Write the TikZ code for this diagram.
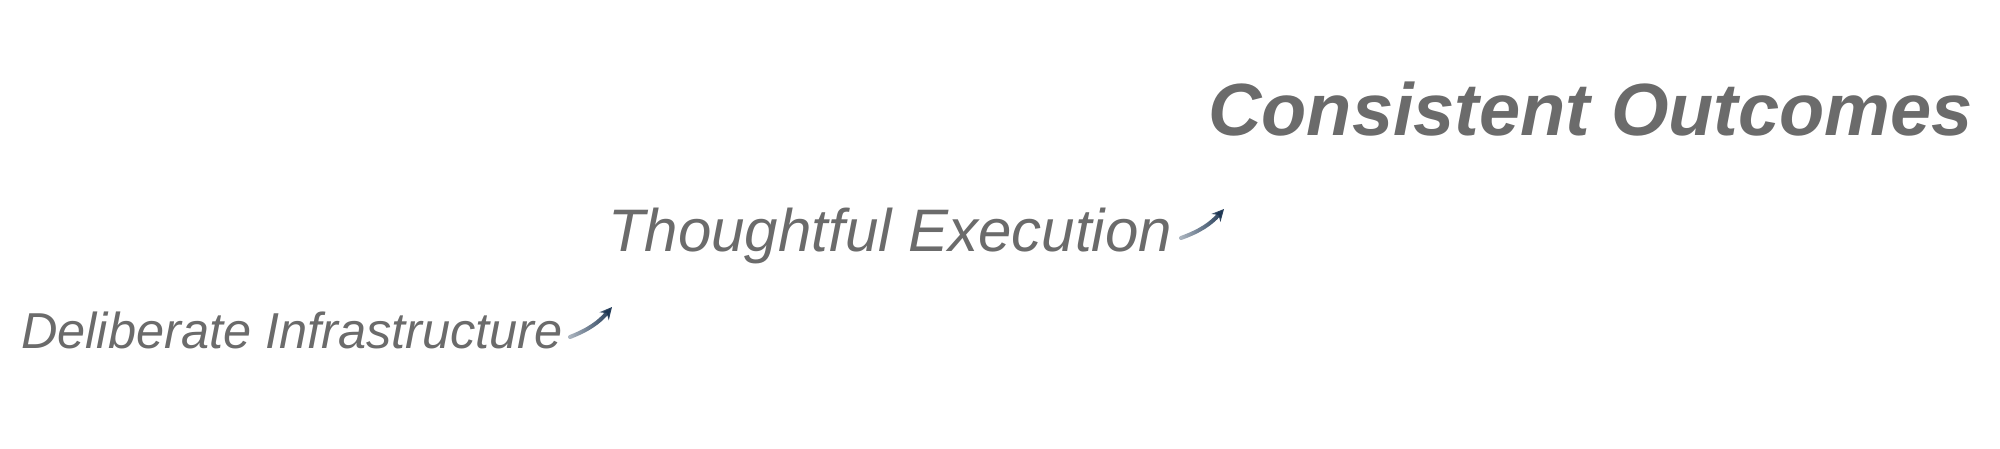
\documentclass[tikz,border=0pt]{standalone}
\usepackage{fontspec}
\setmainfont{Liberation Sans}
\usetikzlibrary{arrows.meta,fadings}
\definecolor{txtgray}{HTML}{6B6B6B}
\definecolor{arrowblue}{HTML}{1C3552}
\tikzfading[name=tailfade, left color=transparent!65, right color=transparent!0]
\tikzset{
  lbl/.style={anchor=base west, inner sep=0pt, text=txtgray, font=\itshape},
  uparrow/.style={draw=arrowblue, line width=4pt, line cap=round,
    -{Stealth[length=12pt,width=12pt]}, bend right=14, path fading=tailfade}
}
\begin{document}
\begin{tikzpicture}[x=1pt,y=-1pt]
\useasboundingbox (0,0) rectangle (2000,448);
\node[lbl, font=\itshape\fontsize{50.5pt}{60pt}\selectfont] (infra) at (21,348) {Deliberate Infrastructure};
\node[lbl, font=\itshape\fontsize{60pt}{72pt}\selectfont] (exec) at (608,251) {Thoughtful Execution};
\node[lbl, font=\bfseries\itshape\fontsize{74pt}{88pt}\selectfont] (out) at (1208,135) {Consistent Outcomes};
\coordinate (a1s) at (570,337);
\coordinate (a1e) at (612,307);
\coordinate (a2s) at (1181,238);
\coordinate (a2e) at (1224,209);
\draw[uparrow] (a1s) to (a1e);
\draw[uparrow] (a2s) to (a2e);
\end{tikzpicture}
\end{document}
